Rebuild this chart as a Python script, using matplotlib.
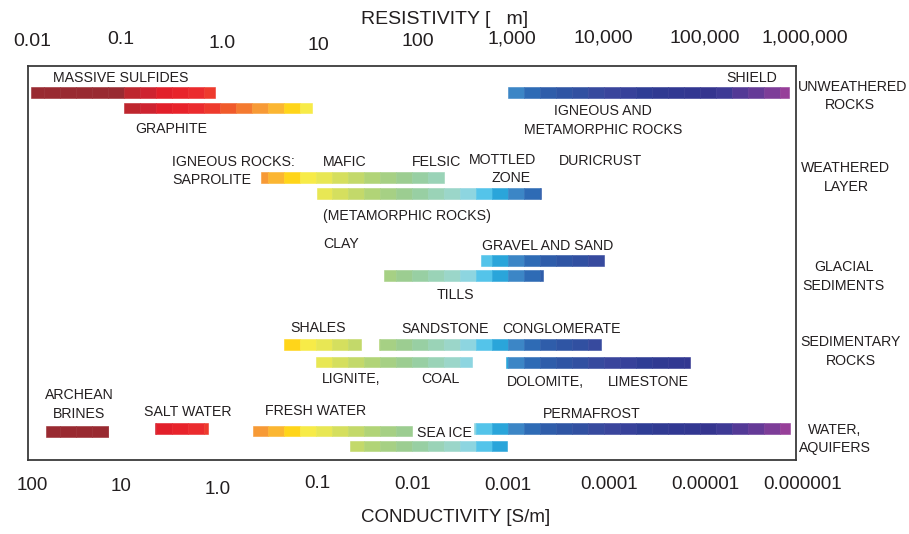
import numpy as np
import matplotlib
matplotlib.use("Agg")
import matplotlib.pyplot as plt
from matplotlib.transforms import offset_copy

# ---------------- data ----------------
materials = ["Massive sulfides", "Graphite", "Igneous and metamorphic rocks",
             "Saprolite", "Metamorphic rocks (weathered)", "Gravel and sand", "Tills",
             "Shales", "Sandstone / conglomerate", "Lignite, coal",
             "Dolomite, limestone", "Archean brines", "Salt water", "Fresh water",
             "Permafrost", "Sea ice"]
res_low = [0.011, 0.1, 1000, 2.7, 10.3, 530, 51, 4.7, 46, 10, 950,
           0.0154, 0.214, 2.2, 450, 23]
res_high = [0.9, 9.1, 850000, 215, 2200, 10000, 2300, 29.5, 9400, 420, 79000,
            0.0695, 0.76, 100, 860000, 990]

res_ticks = [0.01, 0.1, 1, 10, 100, 1000, 1e4, 1e5, 1e6]
res_tick_labels = ["0.01", "0.1", "1.0", "10", "100", "1,000", "10,000",
                   "100,000", "1,000,000"]
cond_tick_labels = ["100", "10", "1.0", "0.1", "0.01", "0.001", "0.0001",
                    "0.00001", "0.000001"]

inner_labels = ["MASSIVE SULFIDES", "GRAPHITE", "SHIELD", "IGNEOUS AND",
                "METAMORPHIC ROCKS", "IGNEOUS ROCKS:", "SAPROLITE", "MAFIC",
                "FELSIC", "MOTTLED", "ZONE", "DURICRUST", "(METAMORPHIC ROCKS)",
                "CLAY", "GRAVEL AND SAND", "TILLS", "SHALES", "SANDSTONE",
                "CONGLOMERATE", "LIGNITE,", "COAL", "DOLOMITE,", "LIMESTONE",
                "ARCHEAN", "BRINES", "SALT WATER", "FRESH WATER", "SEA ICE",
                "PERMAFROST"]
group_labels = ["UNWEATHERED", "ROCKS", "WEATHERED", "LAYER", "GLACIAL",
                "SEDIMENTS", "SEDIMENTARY", "ROCKS", "WATER,", "AQUIFERS"]

# ---------------- layout / style ----------------
W, H = 909, 534
AX_L, AX_R, AX_T, AX_B = 27.5, 796.0, 66.0, 460.0
bar_rows = [92.5, 108, 92.8, 177.5, 193.5, 260.5, 275.5, 344.5, 344.8, 362,
            362.5, 431.3, 428.7, 431, 428.4, 446]
bar_h = 10.6

palette = ["#992A31"] * 6 + [
    "#BE262E", "#CE2330", "#E21F2A", "#E8232B", "#EB2B2E", "#EE3A2D",
    "#F05A2B", "#F47A30", "#F79A36", "#FBB632", "#FFD51A", "#F7EB48",
    "#E8E754", "#D5DF5E", "#C3D96A", "#B1D477", "#A6D084", "#9CCD91",
    "#98CFA3", "#9AD3B7", "#9BD6C9", "#8DD5E0", "#54C4EA", "#2AA5DA",
    "#3C86C6", "#2E6BB5", "#2F5DAA", "#2F55A4", "#3150A1", "#374A9E",
    "#3A459C", "#37419A", "#2F3D95", "#303A92", "#313892", "#323791",
    "#35358F", "#3E3A95", "#533996", "#653A97", "#7D3D98", "#973F99"]

inner_pos = [(52.7, 78.3, "left"), (135, 128.8, "left"), (726, 78.3, "left"),
             (603, 111, "center"), (603, 130, "center"), (172.3, 161.5, "left"),
             (172.3, 179.7, "left"), (323, 161.5, "left"), (412.3, 161.5, "left"),
             (469.3, 159.7, "left"), (491.7, 177.8, "left"), (559.3, 160.8, "left"),
             (323.3, 215.8, "left"), (323.3, 243.7, "left"), (482.3, 245.5, "left"),
             (436.7, 295, "left"), (290.7, 328.3, "left"), (401, 329, "left"),
             (502, 329, "left"), (321.7, 379, "left"), (421.7, 379, "left"),
             (507.3, 381.7, "left"), (608.3, 381.7, "left"), (79.3, 395.5, "center"),
             (79, 414.5, "center"), (144, 412.2, "left"), (265, 411.2, "left"),
             (416.7, 433.3, "left"), (543.3, 414.2, "left")]
group_pos = [(853, 86.7), (850, 105), (845.5, 167.5), (846, 186.8), (844, 267),
             (843.7, 286.3), (851, 341.7), (851, 361), (835, 429.7), (835, 447.8)]
top_tick_px = [(32, 41), (121, 40), (222, 43), (318, 45), (418, 41), (512, 39),
               (603, 38), (705, 38), (805, 38)]
bot_tick_px = [(32.5, 486), (121, 487), (218, 489.5), (317, 484), (413, 485),
               (507.5, 486), (609, 485), (705, 485), (803, 485)]

TXT = "#231F20"
FONT = ["Liberation Sans", "DejaVu Sans"]
LBL_FS = 10.2

fig = plt.figure(figsize=(W / 100, H / 100), dpi=100)
ax = fig.add_axes([AX_L / W, 1 - AX_B / H, (AX_R - AX_L) / W, (AX_B - AX_T) / H])
ax.set_xscale("log")
ax.set_xlim(res_ticks[0], res_ticks[-1])
ax.set_ylim(AX_B, AX_T)
ax.set_xticks([])
ax.set_yticks([])
ax.xaxis.set_minor_locator(matplotlib.ticker.NullLocator())
for s in ax.spines.values():
    s.set_color("#3a3a3a")
    s.set_linewidth(1.3)

# segmented colour bars (6 colour steps per decade of resistivity)
lg0 = np.log10(res_ticks[0])
for lo, hi, y in zip(res_low, res_high, bar_rows):
    for k, c in enumerate(palette):
        s_lo = 10 ** (lg0 + k / 6)
        s_hi = 10 ** (lg0 + (k + 1) / 6)
        a, b = max(lo, s_lo), min(hi, s_hi)
        if b > a:
            ax.barh(y, b - a, left=a, height=bar_h, color=c, edgecolor=c,
                    linewidth=0.4)


def px2x(px):
    return 10 ** (lg0 + (px - AX_L) / ((AX_R - AX_L) / 8))


for txt, (px, py, ha) in zip(inner_labels, inner_pos):
    ax.text(px2x(px), py, txt, ha=ha, va="center", fontsize=LBL_FS,
            family=FONT, color=TXT, clip_on=False)
for txt, (px, py) in zip(group_labels, group_pos):
    ax.text(px2x(px), py, txt, ha="center", va="center", fontsize=LBL_FS,
            family=FONT, color=TXT, clip_on=False)


def tick_transform(t, px):
    base = AX_L + (np.log10(t) - lg0) * (AX_R - AX_L) / 8
    return offset_copy(ax.transData, fig=fig, x=px - base, y=0, units="dots")


for t, lab, (px, py) in zip(res_ticks, res_tick_labels, top_tick_px):
    ax.text(t, py, lab, transform=tick_transform(t, px), ha="center",
            va="center", fontsize=14, family=FONT, color=TXT, clip_on=False)
for t, lab, (px, py) in zip(res_ticks, cond_tick_labels, bot_tick_px):
    ax.text(t, py, lab, transform=tick_transform(t, px), ha="center",
            va="center", fontsize=13.5, family=FONT, color=TXT, clip_on=False)

fig.text(445 / W, 1 - 19 / H, "RESISTIVITY [   m]", ha="center", va="center",
         fontsize=14, family=FONT, color=TXT)
fig.text(455.5 / W, 1 - 518 / H, "CONDUCTIVITY [S/m]", ha="center", va="center",
         fontsize=13.5, family=FONT, color=TXT)

fig.savefig("out.png", dpi=100, facecolor="white")
